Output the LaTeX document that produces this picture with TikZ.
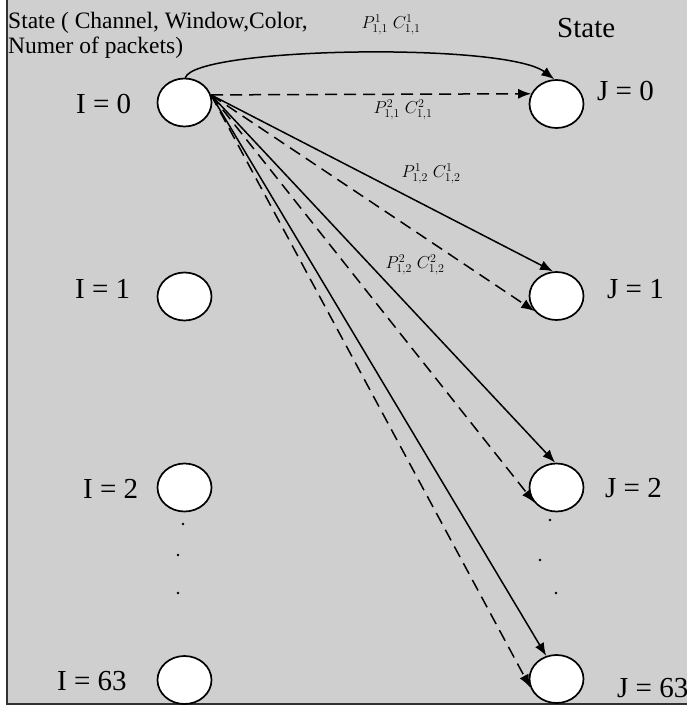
\documentclass[tikz,border=0pt]{standalone}
\usepackage{fontspec}
\setmainfont{Liberation Serif}
\usetikzlibrary{shapes.geometric,arrows.meta}
\definecolor{bggray}{RGB}{207,207,207}
\definecolor{framegray}{RGB}{50,50,50}
\begin{document}
\begin{tikzpicture}[x=1pt,y=-1pt,
  statenode/.style={ellipse,draw=black,fill=white,line width=1.7pt,minimum width=54pt,minimum height=48pt,inner sep=0pt},
  biglabel/.style={anchor=base west,inner sep=0pt,font=\fontsize{29}{32}\selectfont},
  titlelabel/.style={anchor=base west,inner sep=0pt,font=\fontsize{23.5}{25}\selectfont},
  edgelabel/.style={inner sep=0pt,font=\fontsize{16.5}{18}\selectfont},
  conn/.style={line width=1.5pt,-{Latex[length=13pt,width=10pt]}},
  dconn/.style={conn,dash pattern=on 12pt off 7pt},
  dotmark/.style={circle,fill=black,inner sep=0pt,minimum size=2.8pt}]
\useasboundingbox (0,0) rectangle (687,710);
\fill[white] (0,0) rectangle (687,710);
\fill[bggray] (7,0) rectangle (687,704);
\draw[framegray,line width=1.5pt] (7,0) -- (7,704) -- (687,704);

% title
\node[titlelabel] (t1) at (8,28) {State ( Channel, Window,Color,};
\node[titlelabel] (t2) at (8,53) {Numer of packets)};
\node[biglabel] (st) at (557,37) {State};

% states
\node[statenode] (I0) at (184.5,102.5) {};
\node[statenode] (I1) at (184.5,296.5) {};
\node[statenode] (I2) at (184.5,487.5) {};
\node[statenode] (I63) at (184.5,680) {};
\node[statenode] (J0) at (556.5,104) {};
\node[statenode] (J1) at (556.5,296) {};
\node[statenode] (J2) at (556.5,487.5) {};
\node[statenode] (J63) at (556.5,679) {};

% state labels
\node[biglabel] (lI0) at (76,113) {I = 0};
\node[biglabel] (lI1) at (75,298) {I = 1};
\node[biglabel] (lI2) at (83,498) {I = 2};
\node[biglabel] (lI63) at (57,690) {I = 63};
\node[biglabel] (lJ0) at (597,100) {J = 0};
\node[biglabel] (lJ1) at (607,298) {J = 1};
\node[biglabel] (lJ2) at (605,497) {J = 2};
\node[biglabel] (lJ63) at (617,697) {J = 63};

% dots
\node[dotmark] (dl1) at (183,524) {};
\node[dotmark] (dl2) at (178,555) {};
\node[dotmark] (dl3) at (178,593) {};
\node[dotmark] (dr1) at (550,520) {};
\node[dotmark] (dr2) at (540,560) {};
\node[dotmark] (dr3) at (556,593) {};

% connectors
\coordinate (src) at (I0.16);
\draw[conn] (I0.88) .. controls (195,47) and (505,42) .. (J0.95);
\draw[dconn] (src) -- (J0.158);
\draw[conn] (src) -- (J1.98);
\draw[dconn] (src) -- (J1.214);
\draw[conn] (src) -- (J2.93);
\draw[dconn] (src) -- (J2.214);
\draw[conn] (src) -- (J63.114);
\draw[dconn] (src) -- (J63.198);

% edge labels
\node[edgelabel] (e1) at (391,25) {$P^{1}_{1,1}\;C^{1}_{1,1}$};
\node[edgelabel] (e2) at (403,110) {$P^{2}_{1,1}\;C^{2}_{1,1}$};
\node[edgelabel] (e3) at (431,174) {$P^{1}_{1,2}\;C^{1}_{1,2}$};
\node[edgelabel] (e4) at (415,265) {$P^{2}_{1,2}\;C^{2}_{1,2}$};
\end{tikzpicture}
\end{document}
